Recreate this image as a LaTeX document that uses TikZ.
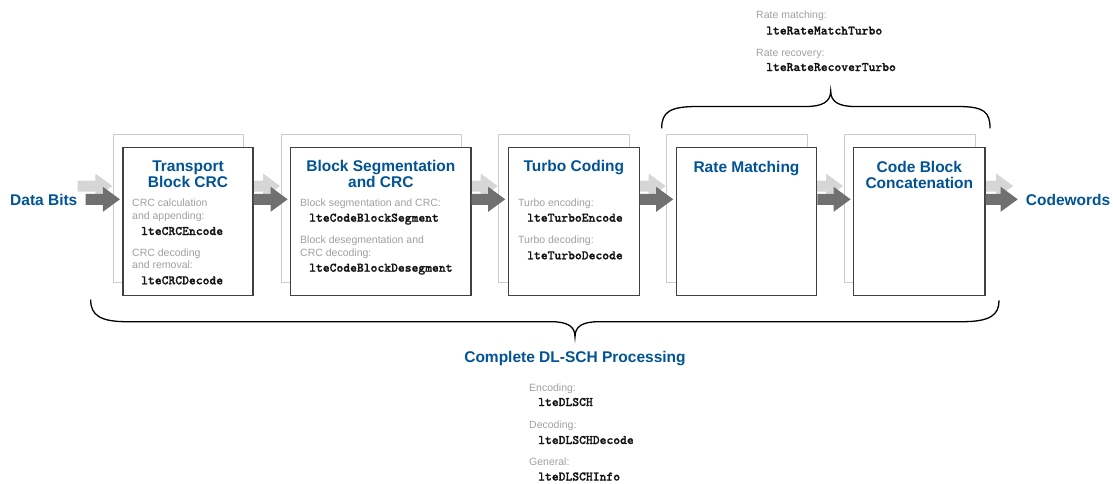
\documentclass[tikz,border=0pt]{standalone}
\usepackage{fontspec}
\setmainfont{Liberation Sans}
\newfontfamily\codefont{lmmonolt10-bold.otf}[FakeBold=1.2]
\usetikzlibrary{calc}
\definecolor{titleblue}{RGB}{0,84,150}
\definecolor{graytext}{RGB}{160,160,160}
\definecolor{darkarrow}{RGB}{112,112,112}
\definecolor{lightarrow}{RGB}{214,214,214}
\definecolor{frontborder}{RGB}{64,64,64}
\definecolor{backborder}{RGB}{204,204,204}
\definecolor{codecolor}{RGB}{20,20,20}
\pgfdeclarelayer{bgboxes}
\pgfdeclarelayer{bgarrows}
\pgfsetlayers{bgboxes,bgarrows,main}
\newcommand\blockarrow[3]{%
  \fill[#1] let \p1=(#2), \p2=(#3) in
    (\x1,\y1+5.5pt) -- (\x2-17pt,\y1+5.5pt) -- (\x2-17pt,\y1+12.5pt) --
    (\x2,\y1) -- (\x2-17pt,\y1-12.5pt) -- (\x2-17pt,\y1-5.5pt) --
    (\x1,\y1-5.5pt) -- cycle;}
\begin{document}
\begin{tikzpicture}[x=1pt,y=-1pt,
  front/.style={draw=frontborder, line width=1.2pt, fill=white, minimum height=148pt, inner sep=0pt},
  back/.style={draw=backborder, line width=0.9pt, fill=white, minimum height=148pt, inner sep=0pt},
  ttl/.style={font=\fontsize{15.5}{16}\selectfont\bfseries, text=titleblue, inner sep=0pt, anchor=base},
  lbl/.style={font=\fontsize{15.5}{16}\selectfont\bfseries, text=titleblue, inner sep=0pt, anchor=base west},
  gtxt/.style={font=\fontsize{10.5}{12}\selectfont, text=graytext, inner sep=0pt, anchor=base west},
  code/.style={font=\fontsize{13}{14}\selectfont\codefont, text=codecolor, inner sep=0pt, anchor=base west},
  darr/.style={fill=darkarrow},
  larr/.style={fill=lightarrow},
  brace/.style={draw=black, line width=1.3pt, line cap=round}
]
\useasboundingbox (0,0) rectangle (1113,483);

% front boxes
\node[front, minimum width=130pt]   (b1) at (188,221.7) {};
\node[front, minimum width=180.3pt] (b2) at (380.85,221.7) {};
\node[front, minimum width=131pt]   (b3) at (573.8,221.7) {};
\node[front, minimum width=140.4pt] (b4) at (746.5,221.7) {};
\node[front, minimum width=131.3pt] (b5) at (919.35,221.7) {};

% back boxes
\begin{pgfonlayer}{bgboxes}
\node[back, minimum width=130pt]   (k1) at ($(b1)+(-9.7,-13.4)$) {};
\node[back, minimum width=180.3pt] (k2) at ($(b2)+(-9.7,-13.4)$) {};
\node[back, minimum width=131pt]   (k3) at ($(b3)+(-9.7,-13.4)$) {};
\node[back, minimum width=140.4pt] (k4) at ($(b4)+(-9.7,-13.4)$) {};
\node[back, minimum width=131.3pt] (k5) at ($(b5)+(-9.7,-13.4)$) {};
\end{pgfonlayer}

% end labels
\node[lbl] (db) at (10,205) {Data Bits};
\node[lbl] (cw) at (1025.7,205) {Codewords};

% arrow reference lines
\coordinate (ay) at (0,199.3);
\coordinate (ly) at (0,186);

% dark arrows
\coordinate (d0s) at ($(db.base east |- ay)+(8,0)$);
\coordinate (d0t) at ($(b1.west |- ay)+(-2.5,0)$);
\coordinate (d1s) at (b1.east |- ay);
\coordinate (d1t) at ($(b2.west |- ay)+(-2.5,0)$);
\coordinate (d2s) at (b2.east |- ay);
\coordinate (d2t) at ($(b3.west |- ay)+(-2.5,0)$);
\coordinate (d3s) at (b3.east |- ay);
\coordinate (d3t) at ($(b4.west |- ay)+(-2.5,0)$);
\coordinate (d4s) at (b4.east |- ay);
\coordinate (d4t) at ($(b5.west |- ay)+(-2.5,0)$);
\coordinate (d5s) at (b5.east |- ay);
\coordinate (d5t) at ($(cw.west |- ay)+(-8,0)$);

% light arrows
\coordinate (l0s) at ($(d0s |- ly)+(-8,0)$);
\coordinate (l0t) at ($(k1.west |- ly)+(-0.5,0)$);
\coordinate (l1s) at ($(b1.east |- ly)+(-8,0)$);
\coordinate (l1t) at ($(k2.west |- ly)+(-0.5,0)$);
\coordinate (l2s) at ($(b2.east |- ly)+(-8,0)$);
\coordinate (l2t) at ($(k3.west |- ly)+(-0.5,0)$);
\coordinate (l3s) at ($(b3.east |- ly)+(-8,0)$);
\coordinate (l3t) at ($(k4.west |- ly)+(-0.5,0)$);
\coordinate (l4s) at ($(b4.east |- ly)+(-8,0)$);
\coordinate (l4t) at ($(k5.west |- ly)+(-0.5,0)$);
\coordinate (l5s) at ($(b5.east |- ly)+(-8,0)$);
\coordinate (l5t) at ($(d5t |- ly)+(-4.5,0)$);

\begin{pgfonlayer}{bgarrows}
\blockarrow{larr}{l0s}{l0t}
\blockarrow{larr}{l1s}{l1t}
\blockarrow{larr}{l2s}{l2t}
\blockarrow{larr}{l3s}{l3t}
\blockarrow{larr}{l4s}{l4t}
\blockarrow{larr}{l5s}{l5t}
\end{pgfonlayer}

\blockarrow{darr}{d0s}{d0t}
\blockarrow{darr}{d1s}{d1t}
\blockarrow{darr}{d2s}{d2t}
\blockarrow{darr}{d3s}{d3t}
\blockarrow{darr}{d4s}{d4t}
\blockarrow{darr}{d5s}{d5t}

% titles
\node[ttl] (t1a) at (188,171.5) {Transport};
\node[ttl] (t1b) at (188,187.5) {Block CRC};
\node[ttl] (t2a) at (380.85,171.5) {Block Segmentation};
\node[ttl] (t2b) at (380.85,187.5) {and CRC};
\node[ttl] (t3)  at (573.8,171.5) {Turbo Coding};
\node[ttl] (t4)  at (746.5,172) {Rate Matching};
\node[ttl] (t5a) at (919.35,172) {Code Block};
\node[ttl] (t5b) at (919.35,188) {Concatenation};

% box 1 texts
\node[gtxt] (g11) at (132,206.7) {CRC calculation};
\node[gtxt] (g12) at (132,219) {and appending:};
\node[code] (c11) at (141,235) {lteCRCEncode};
\node[gtxt] (g13) at (132,256.7) {CRC decoding};
\node[gtxt] (g14) at (132,268.5) {and removal:};
\node[code] (c12) at (141,284.3) {lteCRCDecode};

% box 2 texts
\node[gtxt] (g21) at (300,206.7) {Block segmentation and CRC:};
\node[code] (c21) at (309,221.7) {lteCodeBlockSegment};
\node[gtxt] (g22) at (300,243.3) {Block desegmentation and};
\node[gtxt] (g23) at (300,256) {CRC decoding:};
\node[code] (c22) at (309,271.7) {lteCodeBlockDesegment};

% box 3 texts
\node[gtxt] (g31) at (518,206.7) {Turbo encoding:};
\node[code] (c31) at (527,221.7) {lteTurboEncode};
\node[gtxt] (g32) at (518,243.3) {Turbo decoding:};
\node[code] (c32) at (527,259.3) {lteTurboDecode};

% top texts
\node[gtxt] (gt1) at (756,18.5) {Rate matching:};
\node[code] (ct1) at (766,34.5) {lteRateMatchTurbo};
\node[gtxt] (gt2) at (756,56) {Rate recovery:};
\node[code] (ct2) at (766,71) {lteRateRecoverTurbo};

% top brace
\coordinate (tbl) at (661.7,128);
\coordinate (tbt) at (830.7,91);
\coordinate (tbr) at (990,128);
\draw[brace] (tbl) .. controls (661.7,112) and (670,106.5) .. (697,106.5)
  -- (806,106.5) .. controls (822,106.5) and (830.7,102) .. (tbt)
  .. controls (830.7,102) and (839,106.5) .. (855,106.5)
  -- (958,106.5) .. controls (984,106.5) and (990,112) .. (tbr);

% bottom brace
\coordinate (bbl) at (90.7,300);
\coordinate (bbt) at (575,336.7);
\coordinate (bbr) at (999,300.7);
\draw[brace] (bbl) .. controls (90.7,315) and (100,321.7) .. (127,321.7)
  -- (551,321.7) .. controls (567,321.7) and (575,326) .. (bbt)
  .. controls (575,326) and (583,321.7) .. (599,321.7)
  -- (962,321.7) .. controls (990,321.7) and (999,315) .. (bbr);

% bottom texts
\node[ttl] (cdl) at (575,362.5) {Complete DL-SCH Processing};
\node[gtxt] (gb1) at (529,391) {Encoding:};
\node[code] (cb1) at (538,406) {lteDLSCH};
\node[gtxt] (gb2) at (529,428.3) {Decoding:};
\node[code] (cb2) at (538,444) {lteDLSCHDecode};
\node[gtxt] (gb3) at (529,465.3) {General:};
\node[code] (cb3) at (538,480.5) {lteDLSCHInfo};
\end{tikzpicture}
\end{document}
